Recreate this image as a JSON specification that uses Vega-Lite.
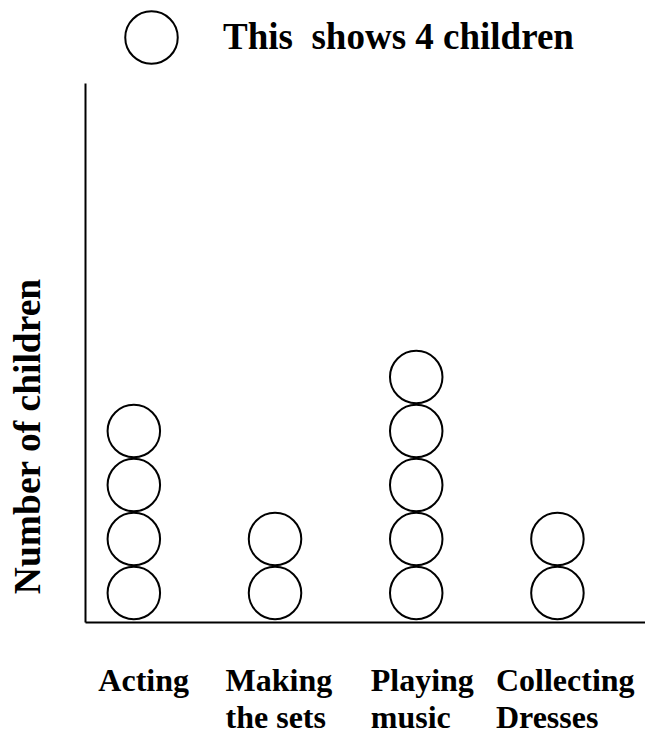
{
  "$schema": "https://vega.github.io/schema/vega-lite/v6.json",
  "width": 560,
  "height": 539,
  "autosize": {"type": "none"},
  "padding": {"left": 85, "top": 83, "right": 0, "bottom": 111},
  "background": "white",
  "data": {
    "values": [
      {"activity": "Acting", "symbol": 1},
      {"activity": "Acting", "symbol": 2},
      {"activity": "Acting", "symbol": 3},
      {"activity": "Acting", "symbol": 4},
      {"activity": "Making the sets", "symbol": 1},
      {"activity": "Making the sets", "symbol": 2},
      {"activity": "Playing music", "symbol": 1},
      {"activity": "Playing music", "symbol": 2},
      {"activity": "Playing music", "symbol": 3},
      {"activity": "Playing music", "symbol": 4},
      {"activity": "Playing music", "symbol": 5},
      {"activity": "Collecting Dresses", "symbol": 1},
      {"activity": "Collecting Dresses", "symbol": 2}
    ]
  },
  "mark": {"type": "point", "filled": false, "stroke": "black", "strokeWidth": 2, "size": 2756, "opacity": 1},
  "encoding": {
    "x": {
      "field": "activity",
      "type": "nominal",
      "sort": ["Acting", "Making the sets", "Playing music", "Collecting Dresses"],
      "scale": {"type": "point", "padding": 0.483, "align": 0.358},
      "axis": {
        "title": null,
        "domainColor": "black",
        "domainWidth": 2,
        "ticks": false,
        "tickSize": 0,
        "grid": false,
        "labelFont": "Liberation Serif",
        "labelFontSize": 32,
        "labelFontWeight": "bold",
        "labelColor": "black",
        "labelAlign": "left",
        "labelBaseline": "alphabetic",
        "labelPadding": 68,
        "labelLineHeight": 37,
        "labelAngle": 0,
        "labelOverlap": false,
        "labelBound": false,
        "labelFlush": false,
        "labelLimit": 0,
        "labelExpr": "datum.label == 'Making the sets' ? ['Making', 'the sets'] : split(datum.label, ' ')",
        "labelOffset": {
          "condition": [
            {"test": "datum.value == 'Acting'", "value": -36},
            {"test": "datum.value == 'Making the sets'", "value": -50},
            {"test": "datum.value == 'Playing music'", "value": -46}
          ],
          "value": -62
        }
      }
    },
    "y": {
      "field": "symbol",
      "type": "quantitative",
      "scale": {"domain": [0.463, 10.445], "nice": false, "zero": false},
      "axis": {
        "title": "Number of children",
        "labels": false,
        "ticks": false,
        "grid": false,
        "domainColor": "black",
        "domainWidth": 2,
        "titleFont": "Liberation Serif",
        "titleFontSize": 37.5,
        "titleFontWeight": "bold",
        "titleColor": "black",
        "titleAngle": -90,
        "titleX": -46,
        "titleY": 353,
        "titleAlign": "center",
        "titleBaseline": "alphabetic"
      }
    },
    "shape": {
      "datum": "This\u00a0 shows 4 children",
      "type": "nominal",
      "scale": {"range": ["circle"]},
      "legend": {
        "orient": "none",
        "legendX": 39,
        "legendY": -73,
        "title": null,
        "padding": 0,
        "symbolType": "circle",
        "symbolSize": 2756,
        "symbolStrokeColor": "black",
        "symbolStrokeWidth": 2,
        "symbolFillColor": "transparent",
        "labelFont": "Liberation Serif",
        "labelFontSize": 37,
        "labelFontWeight": "bold",
        "labelColor": "black",
        "labelOffset": 44,
        "labelLimit": 0
      }
    }
  },
  "config": {"view": {"stroke": null}}
}
